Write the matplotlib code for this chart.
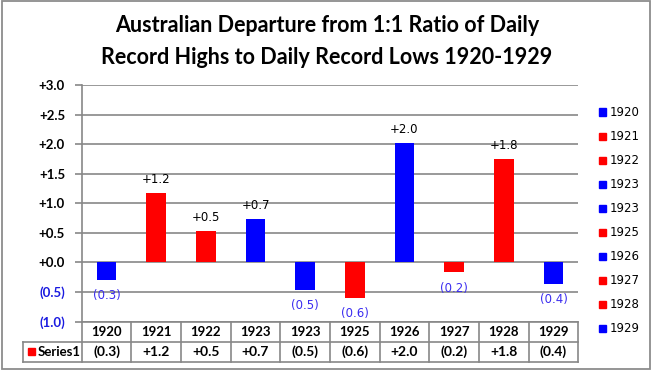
import matplotlib
matplotlib.use("Agg")
import matplotlib.pyplot as plt
from matplotlib.patches import Rectangle
from matplotlib.lines import Line2D

years = ["1920", "1921", "1922", "1923", "1923", "1925", "1926", "1927", "1928", "1929"]
values = [-0.30, 1.17, 0.54, 0.74, -0.46, -0.60, 2.02, -0.17, 1.76, -0.36]
bar_colors = ["#0000FF", "#FF0000", "#FF0000", "#0000FF", "#0000FF",
              "#FF0000", "#0000FF", "#FF0000", "#FF0000", "#0000FF"]
yticks = [-1.0, -0.5, 0.0, 0.5, 1.0, 1.5, 2.0, 2.5, 3.0]
series_name = "Series1"
title = "Australian Departure from 1:1 Ratio of Daily\nRecord Highs to Daily Record Lows 1920-1929"

W, H = 651, 370
fig = plt.figure(figsize=(W / 100, H / 100), dpi=100)

def fx(px):
    return px / W

def fy(py):
    return 1 - py / H

def fmt(v):
    return f"+{v:.1f}" if v >= 0 else f"({abs(v):.1f})"

BOLD = "Lato"
GRID = "#878787"
NEG = "#3A2CF0"

# outer border
fig.add_artist(Rectangle((fx(1.5), fy(368.5)), fx(648), fy(1.5) - fy(368.5),
                         transform=fig.transFigure, fill=False, edgecolor="#8c8c8c", lw=1.3))

left, right, top, bottom = 81.7, 578.3, 85.3, 321.5
ax = fig.add_axes([fx(left), fy(bottom), fx(right - left), fy(top) - fy(bottom)])
n = len(values)
x = list(range(n))
ax.bar(x, values, width=0.4, color=bar_colors, zorder=3)
ax.set_xlim(-0.5, n - 0.5)
ax.set_ylim(-1.0, 3.0)
ax.set_yticks(yticks)
ax.set_yticklabels([fmt(v) for v in yticks], fontfamily=BOLD, fontweight="bold", fontsize=9.5)
for lbl, v in zip(ax.get_yticklabels(), yticks):
    lbl.set_color("black" if v >= 0 else "#1a1ae0")
ax.set_xticks([])
for s in ["top", "right", "bottom"]:
    ax.spines[s].set_visible(False)
ax.spines["left"].set_color(GRID)
ax.spines["left"].set_linewidth(1.2)
ax.tick_params(axis="y", length=5, color=GRID, width=1.2, pad=7)
ax.grid(axis="y", color=GRID, lw=1.2, zorder=0)

for xi, v in zip(x, values):
    if v >= 0:
        ax.annotate(fmt(v), (xi, v), xytext=(0, 5), textcoords="offset points",
                    ha="center", va="bottom", fontsize=8.5, color="black",
                    fontfamily="DejaVu Sans")
    else:
        ax.annotate(fmt(v), (xi, v), xytext=(0, -6.5), textcoords="offset points",
                    ha="center", va="top", fontsize=8.5, color=NEG,
                    fontfamily="DejaVu Sans")

# title
fig.text(fx(327), fy(25), title.split("\n")[0], ha="center", va="center",
         fontfamily=BOLD, fontweight="bold", fontsize=15.5)
fig.text(fx(327), fy(57), title.split("\n")[1], ha="center", va="center",
         fontfamily=BOLD, fontweight="bold", fontsize=15.5)

# data table
r0, r1, r2 = 321.5, 341.7, 362.0
cw = (right - left) / n
tl = dict(color=GRID, lw=1.2, transform=fig.transFigure)
fig.add_artist(Line2D([fx(left), fx(right)], [fy(r0), fy(r0)], **tl))
fig.add_artist(Line2D([fx(23.3), fx(right)], [fy(r1), fy(r1)], **tl))
fig.add_artist(Line2D([fx(23.3), fx(right)], [fy(r2), fy(r2)], **tl))
fig.add_artist(Line2D([fx(23.3), fx(23.3)], [fy(r1), fy(r2)], **tl))
for i in range(n + 1):
    xp = left + i * cw
    fig.add_artist(Line2D([fx(xp), fx(xp)], [fy(r0), fy(r2)], **tl))
for i, (yr, v) in enumerate(zip(years, values)):
    cx = left + (i + 0.5) * cw
    fig.text(fx(cx), fy((r0 + r1) / 2), yr, ha="center", va="center",
             fontfamily=BOLD, fontweight="bold", fontsize=9.5)
    fig.text(fx(cx), fy((r1 + r2) / 2), fmt(v), ha="center", va="center",
             fontfamily=BOLD, fontweight="bold", fontsize=10)
fig.add_artist(Rectangle((fx(28), fy(355)), fx(7), fy(348) - fy(355),
                         transform=fig.transFigure, color="#FF0000"))
fig.text(fx(38), fy((r1 + r2) / 2), series_name, ha="left", va="center",
         fontfamily=BOLD, fontweight="bold", fontsize=9.5)

# legend on right
for i, (yr, c) in enumerate(zip(years, bar_colors)):
    yc = 112 + i * 24
    fig.add_artist(Rectangle((fx(599), fy(yc + 3.5)), fx(7), fy(yc - 3.5) - fy(yc + 3.5),
                             transform=fig.transFigure, color=c))
    fig.text(fx(610), fy(yc), yr, ha="left", va="center", fontsize=8.5,
             fontfamily="DejaVu Sans")

fig.savefig("out.png", dpi=100)
